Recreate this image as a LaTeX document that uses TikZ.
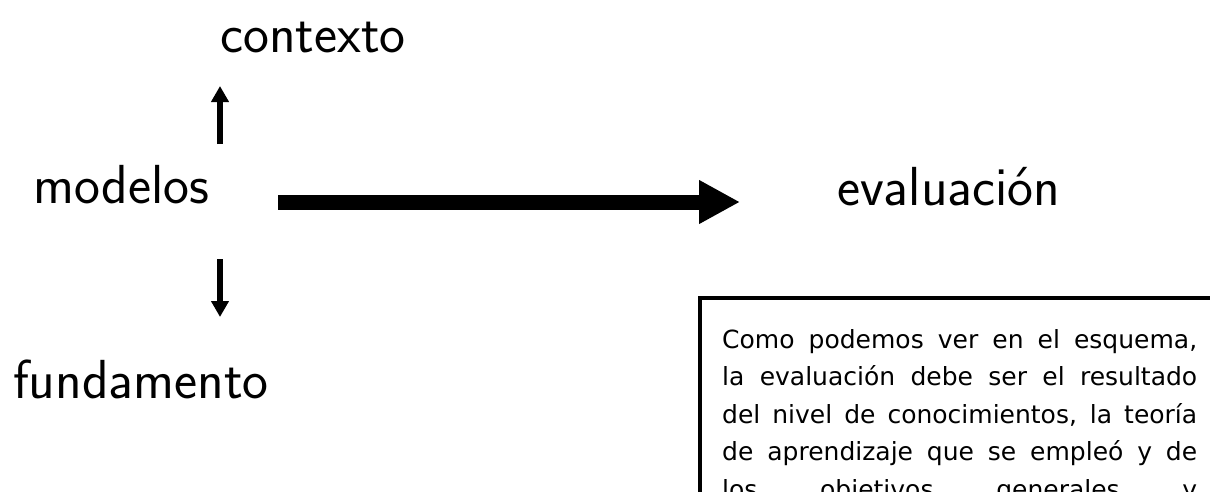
\documentclass[tikz,border=0pt]{standalone}
\usepackage{fontspec}
\newfontfamily\boxfont{DejaVu Sans}
\usetikzlibrary{arrows.meta}
\begin{document}
\begin{tikzpicture}[x=1pt,y=-1pt,
  word/.style={font=\sffamily\fontsize{55}{60}\selectfont, inner sep=0pt, anchor=base west},
  bigarrow/.style={line width=15pt, -{Triangle[length=41pt,width=41pt]}},
  smallarrow/.style={line width=6pt, -{Triangle[length=16pt,width=17pt]}},
  notebox/.style={line width=4pt}]
\useasboundingbox[fill=white] (0,0) rectangle (1210,491);
\clip (0,0) rectangle (1210,491);
\node[word] (contexto) at (220,52) {contexto};
\node[word] (modelos) at (33,203) {modelos};
\node[word] (evaluacion) at (837,205) {evaluación};
\node[word] (fundamento) at (13,398) {fundamento};
\coordinate (upS) at (220,144);
\coordinate (upE) at (220,86);
\coordinate (dnS) at (220,259);
\coordinate (dnE) at (220,317);
\coordinate (bgS) at (278,202);
\coordinate (bgE) at (740,202);
\draw[smallarrow] (upS) -- (upE);
\draw[smallarrow] (dnS) -- (dnE);
\draw[bigarrow] (bgS) -- (bgE);
\draw[notebox] (1300,298) -- (700,298) -- (700,700);
\node[inner sep=0pt, anchor=base west, font=\boxfont\fontsize{25}{37.5}\selectfont] (nota) at (722,348)
 {\vtop{\baselineskip=37.5pt
 \hbox{\makebox[475pt][s]{Como podemos ver en el esquema,}}
 \hbox{\makebox[475pt][s]{la evaluación debe ser el resultado}}
 \hbox{\makebox[475pt][s]{del nivel de conocimientos, la teoría}}
 \hbox{\makebox[475pt][s]{de aprendizaje que se empleó y de}}
 \hbox{\makebox[475pt][s]{los objetivos generales y}}}};
\end{tikzpicture}
\end{document}
